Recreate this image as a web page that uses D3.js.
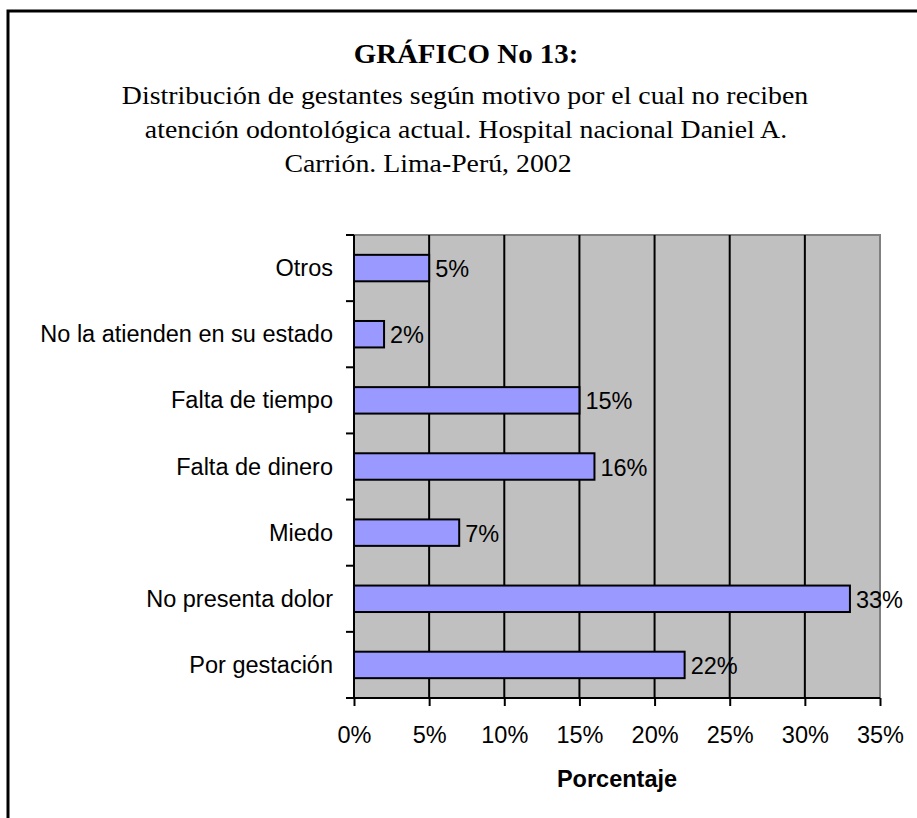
<!DOCTYPE html>
<html>
<head>
<meta charset="utf-8">
<script src="https://cdn.jsdelivr.net/npm/d3@7"></script>
<style>
  html, body { margin: 0; padding: 0; background: #fff; }
  svg { display: block; }
</style>
</head>
<body>
<div id="chart"></div>
<script>
// ===== datos del gráfico =====
const categories = [
    'Otros',
    'No la atienden en su estado',
    'Falta de tiempo',
    'Falta de dinero',
    'Miedo',
    'No presenta dolor',
    'Por gestación'
];
const values = [5, 2, 15, 16, 7, 33, 22];
const xTicks = [0, 5, 10, 15, 20, 25, 30, 35];
const titleText = 'GRÁFICO No 13:';
const subtitleLines = [
    'Distribución de gestantes según motivo por el cual no reciben',
    'atención odontológica actual. Hospital nacional Daniel A.',
    'Carrión. Lima-Perú, 2002'
];
const xAxisTitle = 'Porcentaje';

const width = 917;
const height = 818;
const sans = '"Liberation Sans", Arial, sans-serif';
const serif = '"Liberation Serif", "Times New Roman", serif';
const sansSize = '23.5px';

const plot = { left: 354, right: 880, top: 235, bottom: 698 };

const svg = d3.select('#chart')
    .append('svg')
    .attr('width', width)
    .attr('height', height);

// marco (solo arriba e izquierda visibles)
svg.append('path')
    .attr('d', `M8,${height} L8,11 L${width},11`)
    .attr('fill', 'none')
    .attr('stroke', '#000')
    .attr('stroke-width', 3);

// títulos (Times algo ensanchada, como en el original)
svg.append('text')
    .attr('transform', 'translate(466,63) scale(1.07,1)')
    .attr('text-anchor', 'middle')
    .style('font-family', serif)
    .style('font-weight', 'bold')
    .style('font-size', '27px')
    .text(titleText);

const lineX = [465, 466, 428];
subtitleLines.forEach((t, i) => {
    svg.append('text')
        .attr('transform', `translate(${lineX[i]},${104 + i * 34}) scale(1.07,1)`)
        .attr('text-anchor', 'middle')
        .style('font-family', serif)
        .style('font-size', '26px')
        .text(t);
});

// escalas
const x = d3.scaleLinear()
    .domain([0, 35])
    .range([plot.left, plot.right]);

const y = d3.scaleBand()
    .domain(categories)
    .range([plot.top, plot.bottom])
    .paddingInner(0.6)
    .paddingOuter(0.3);

// fondo del área de trazado
svg.append('rect')
    .attr('x', plot.left).attr('y', plot.top)
    .attr('width', plot.right - plot.left)
    .attr('height', plot.bottom - plot.top)
    .attr('fill', '#c0c0c0');

// borde gris arriba y derecha
svg.append('path')
    .attr('d', `M${plot.left},${plot.top} L${plot.right},${plot.top} L${plot.right},${plot.bottom}`)
    .attr('fill', 'none')
    .attr('stroke', '#808080')
    .attr('stroke-width', 2);

// líneas de división verticales
svg.append('g')
    .selectAll('line')
    .data(xTicks.filter(d => d > 0 && d < 35))
    .enter().append('line')
    .attr('x1', d => x(d)).attr('x2', d => x(d))
    .attr('y1', plot.top).attr('y2', plot.bottom)
    .attr('stroke', '#000')
    .attr('stroke-width', 2);

// barras
svg.append('g')
    .selectAll('rect')
    .data(categories)
    .enter().append('rect')
    .attr('x', x(0))
    .attr('y', d => y(d))
    .attr('width', (d, i) => x(values[i]) - x(0))
    .attr('height', y.bandwidth())
    .attr('fill', '#9999ff')
    .attr('stroke', '#000')
    .attr('stroke-width', 2);

// etiquetas de datos
svg.append('g')
    .selectAll('text')
    .data(categories)
    .enter().append('text')
    .attr('x', (d, i) => x(values[i]) + 6)
    .attr('y', d => y(d) + y.bandwidth() / 2 + 9)
    .style('font-family', sans)
    .style('font-size', sansSize)
    .text((d, i) => `${values[i]}%`);

// eje X
const xAxis = d3.axisBottom(x)
    .tickValues(xTicks)
    .tickFormat(d => `${d}%`)
    .tickSize(8);

const gx = svg.append('g')
    .attr('transform', `translate(0,${plot.bottom})`)
    .call(xAxis);
gx.select('.domain').attr('stroke-width', 2).attr('d', `M${plot.left},0H${plot.right}`);
gx.selectAll('.tick line').attr('stroke-width', 2);
gx.selectAll('.tick text')
    .attr('y', 45)
    .attr('dy', 0)
    .style('font-family', sans)
    .style('font-size', sansSize)
    .attr('fill', '#000');

// eje Y: marcas en los límites de categorías
const step = y.step();
const boundaries = d3.range(categories.length + 1).map(i => plot.top + i * step);
svg.append('line')
    .attr('x1', plot.left).attr('x2', plot.left)
    .attr('y1', plot.top).attr('y2', plot.bottom)
    .attr('stroke', '#000').attr('stroke-width', 2);
svg.append('g')
    .selectAll('line')
    .data(boundaries)
    .enter().append('line')
    .attr('x1', plot.left - 8).attr('x2', plot.left)
    .attr('y1', d => d).attr('y2', d => d)
    .attr('stroke', '#000').attr('stroke-width', 2);

svg.append('g')
    .selectAll('text')
    .data(categories)
    .enter().append('text')
    .attr('x', plot.left - 21)
    .attr('y', d => y(d) + y.bandwidth() / 2 + 8)
    .attr('text-anchor', 'end')
    .style('font-family', sans)
    .style('font-size', sansSize)
    .text(d => d);

// título del eje X
svg.append('text')
    .attr('x', (plot.left + plot.right) / 2)
    .attr('y', 787)
    .attr('text-anchor', 'middle')
    .style('font-family', sans)
    .style('font-weight', 'bold')
    .style('font-size', sansSize)
    .text(xAxisTitle);
</script>
</body>
</html>
